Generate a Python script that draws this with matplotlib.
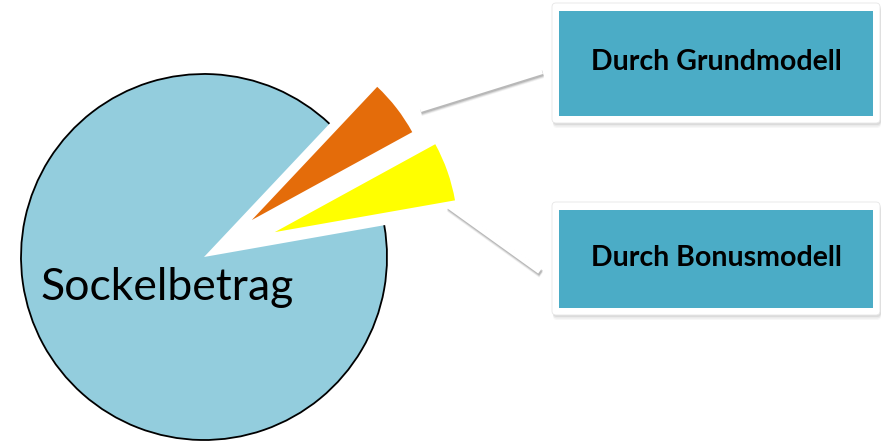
import matplotlib.pyplot as plt
from matplotlib.patches import Arc, FancyBboxPatch

# data
labels = ['Durch Bonusmodell', 'Durch Grundmodell', 'Sockelbetrag']
values = [5.2, 5, 89.8]
colors = ['#FFFF00', '#E46C0A', '#93CDDD']
explode = [0.41, 0.33, 0]
box_labels = ['Durch Grundmodell', 'Durch Bonusmodell']

W, H = 884, 444
fig = plt.figure(figsize=(W / 100, H / 100), dpi=100)
ax = fig.add_axes([0, 0, 1, 1])

# pie (pixel coords, y up); explode is given as fraction of the radius
cx, cy, r = 204, H - 257, 183
wedges, _ = ax.pie(values, colors=colors, explode=[e * r for e in explode],
                   startangle=10, center=(cx, cy), radius=r, frame=True,
                   wedgeprops=dict(linewidth=0))
ax.set_xlim(0, W)
ax.set_ylim(0, H)
ax.set_aspect('equal')
ax.axis('off')

# black outline only on the arc of the big slice
w = wedges[2]
ax.add_patch(Arc(w.center, 2 * w.r, 2 * w.r, theta1=w.theta1, theta2=w.theta2,
                 color='black', lw=1.3, zorder=3))

ax.text(40, H - 300, labels[2], fontsize=32, family='Lato',
        ha='left', va='baseline', zorder=4)

# connector lines: white with soft grey shadow
lines = [((420, 109), (542, 71)), ((448, 205), (540, 271))]
for (x0, y0), (x1, y1) in lines:
    for k, a in [(4.0, 0.12), (3.0, 0.22), (2.0, 0.35)]:
        ax.plot([x0 + 1, x1 + 1], [H - y0 - k, H - y1 - k], color='grey',
                lw=4.5, alpha=a, solid_capstyle='butt', zorder=5)
    ax.plot([x0, x1], [H - y0, H - y1], color='white', lw=4.5,
            solid_capstyle='butt', zorder=6)

# label boxes
boxes = [(552, 3, 328, 120), (552, 202, 328, 113)]
for (bx, by, bw, bh), txt in zip(boxes, box_labels):
    y_low = H - by - bh
    for k, a in [(5, 0.06), (3.5, 0.1), (2, 0.14)]:
        ax.add_patch(FancyBboxPatch((bx + 1, y_low - k), bw, bh,
                                    boxstyle='round,pad=0,rounding_size=4',
                                    fc='grey', ec='none', alpha=a, zorder=5))
    ax.add_patch(FancyBboxPatch((bx, y_low), bw, bh,
                                boxstyle='round,pad=0,rounding_size=4',
                                fc='white', ec='#e6e6e6', lw=0.6, zorder=6))
    ax.add_patch(plt.Rectangle((bx + 7, y_low + 7), bw - 14, bh - 15,
                               fc='#4BACC6', ec='none', zorder=7))
    ax.text(bx + bw / 2, y_low + bh / 2 + 1, txt, fontsize=20.5,
            fontweight='bold', family='Lato', ha='center', va='center',
            zorder=8)

fig.savefig('out.png', dpi=100)
